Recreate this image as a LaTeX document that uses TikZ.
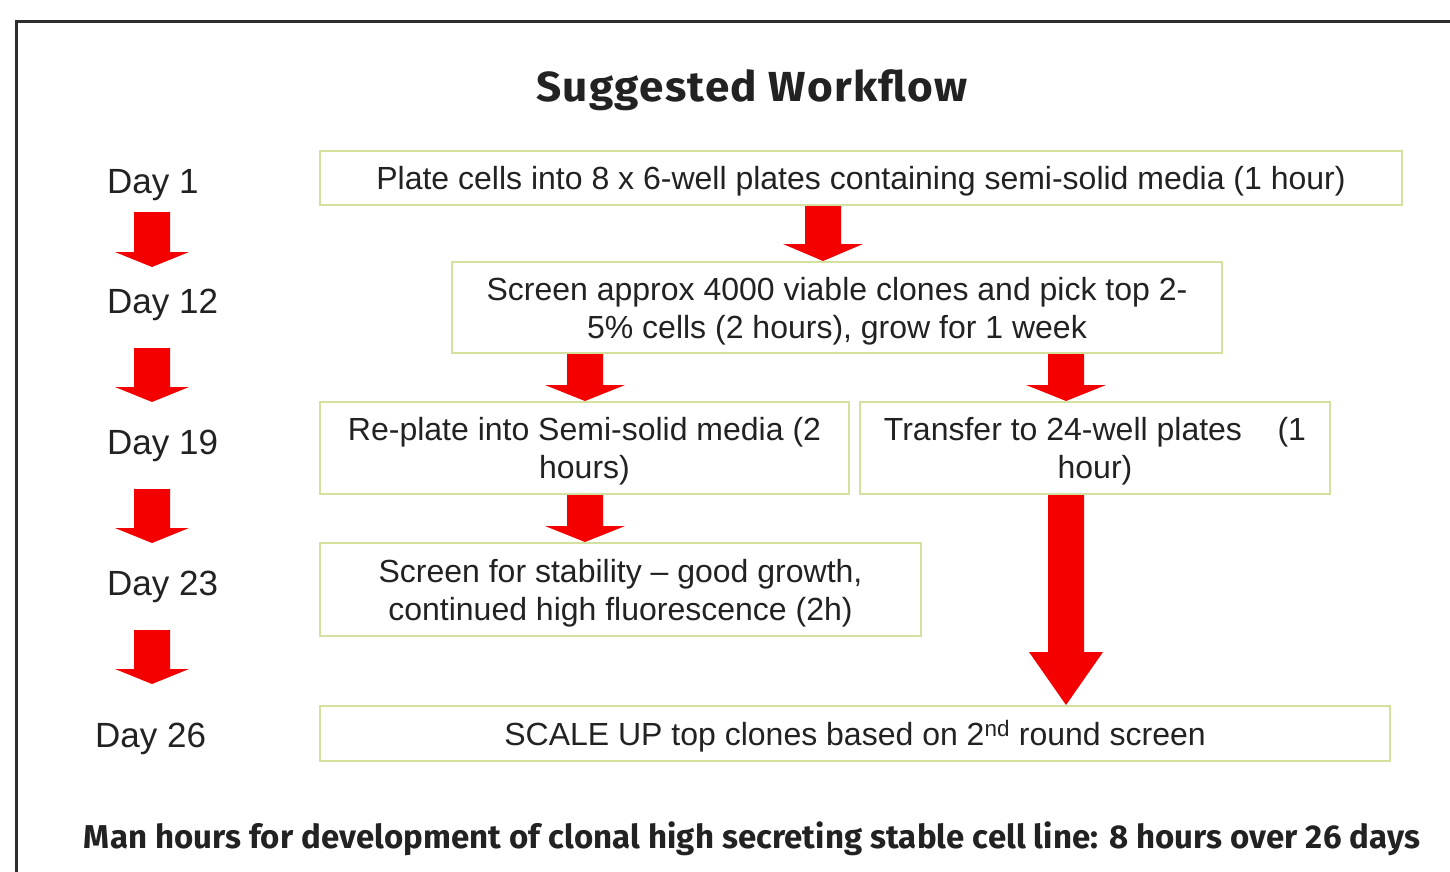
\documentclass[tikz,border=0pt]{standalone}
\usepackage{fontspec}
\setmainfont{Liberation Sans}
\newfontfamily\titlefont[FakeStretch=1.05,LetterSpace=3]{Fira Sans}
\newfontfamily\footfont[LetterSpace=0.3]{Fira Sans}
\usetikzlibrary{calc}

\definecolor{boxline}{RGB}{212,224,158}
\definecolor{arrowred}{RGB}{244,0,0}
\definecolor{ink}{RGB}{34,34,34}
\definecolor{framecol}{RGB}{45,45,45}

% block arrow: #1 head height, #2 head half width, #3 x centre, #4 start point, #5 tip point
\newcommand\blkarrow[5]{%
  \fill[arrowred] let \p1=(#4), \p2=(#5) in
    ({(#3-18)*1pt},\y1) -- ({(#3+18)*1pt},\y1)
    -- ({(#3+18)*1pt},{\y2+#1*1pt}) -- ({(#3+#2)*1pt},{\y2+#1*1pt})
    -- ({#3*1pt},\y2)
    -- ({(#3-#2)*1pt},{\y2+#1*1pt}) -- ({(#3-18)*1pt},{\y2+#1*1pt}) -- cycle;%
}
% step text, set a little below the box centre
\newcommand\steptext[1]{\raisebox{-4pt}[\height][\depth]{\begin{tabular}{@{}c@{}}#1\end{tabular}}}

\begin{document}
\begin{tikzpicture}[x=1pt,y=-1pt,
  stepbox/.style={draw=boxline,line width=2pt,fill=white,text=ink,
    font=\fontsize{32}{38}\selectfont,inner sep=0pt},
  daylabel/.style={text=ink,font=\fontsize{35}{40}\selectfont,anchor=west,inner sep=0pt},
]
\useasboundingbox (0,0) rectangle (1450,872);
\fill[white] (0,0) rectangle (1450,872);

% frame
\draw[framecol,line width=3pt] (16,874) -- (16,22) -- (1452,22);

% title and footer
\node (title) at (752,90) {\titlefont\bfseries\color{ink}\fontsize{42}{48}\selectfont Suggested Workflow};
\node (footer) at (752,839) {\footfont\bfseries\color{ink}\fontsize{33}{38}\selectfont Man hours for development of clonal high secreting stable cell line: 8 hours over 26 days};

% day labels
\node[daylabel] (d1)  at (107,185) {Day 1};
\node[daylabel] (d12) at (107,305) {Day 12};
\node[daylabel] (d19) at (107,446) {Day 19};
\node[daylabel] (d23) at (107,587) {Day 23};
\node[daylabel] (d26) at (95,739)  {Day 26};

% arrow end points along the day column
\coordinate (l1a) at (152,212); \coordinate (l1b) at (152,267);
\coordinate (l2a) at (152,348); \coordinate (l2b) at (152,402);
\coordinate (l3a) at (152,489); \coordinate (l3b) at (152,543);
\coordinate (l4a) at (152,630); \coordinate (l4b) at (152,684);

% process steps
\node[stepbox,minimum width=1082,minimum height=54] (s1) at (861,178)
  {\steptext{Plate cells into 8 x 6-well plates containing semi-solid media (1 hour)}};
\node[stepbox,minimum width=770,minimum height=91] (s2) at (837,307.5)
  {\steptext{Screen approx 4000 viable clones and pick top 2-\\5\% cells (2 hours), grow for 1 week}};
\node[stepbox,minimum width=529,minimum height=92] (s3) at (584.5,448)
  {\steptext{Re-plate into Semi-solid media (2\\hours)}};
\node[stepbox,minimum width=470,minimum height=92] (s4) at (1095,448)
  {\steptext{Transfer to 24-well plates\ \ \ \ (1\\hour)}};
\node[stepbox,minimum width=601,minimum height=93] (s5) at (620.5,589.5)
  {\steptext{Screen for stability -- good growth,\\continued high fluorescence (2h)}};
\node[stepbox,minimum width=1070,minimum height=55] (s6) at (855,733.5)
  {\steptext{SCALE UP top clones based on 2\textsuperscript{nd} round screen}};

% arrows between steps
\blkarrow{17}{40}{823}{s1.south}{s2.north}
\blkarrow{16}{40}{585}{s2.south}{s3.north}
\blkarrow{16}{40}{1066}{s2.south}{s4.north}
\blkarrow{16}{40}{585}{s3.south}{s5.north}
\blkarrow{53}{37}{1066}{s4.south}{s6.north}

% arrows between days
\blkarrow{15}{37}{152}{l1a}{l1b}
\blkarrow{15}{37}{152}{l2a}{l2b}
\blkarrow{15}{37}{152}{l3a}{l3b}
\blkarrow{15}{37}{152}{l4a}{l4b}
\end{tikzpicture}
\end{document}
